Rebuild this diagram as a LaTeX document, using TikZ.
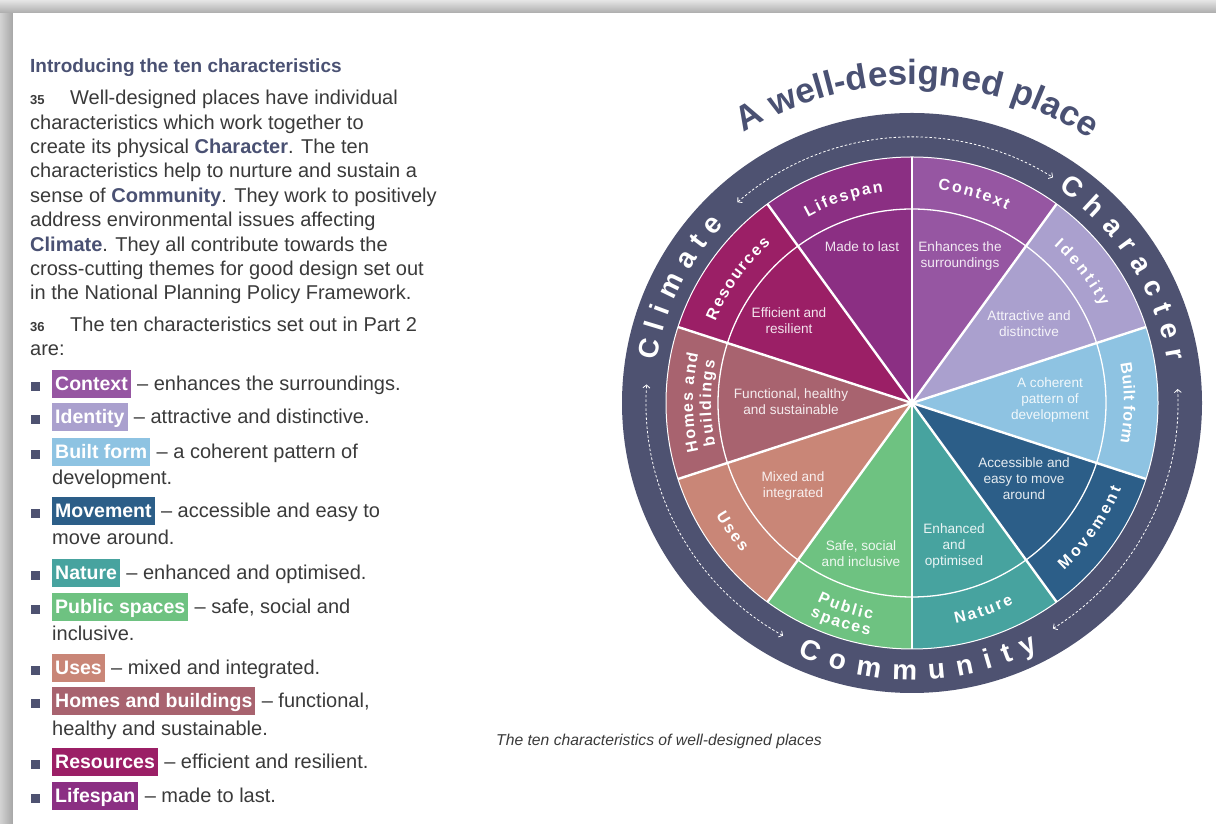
\documentclass[tikz,border=0pt]{standalone}
\usepackage{fontspec}
\setmainfont{Liberation Sans}
\usetikzlibrary{decorations.text,arrows.meta}

\definecolor{ringcol}{HTML}{4E5271}
\definecolor{slate}{HTML}{4A5173}
\definecolor{bodytxt}{HTML}{3A3A3A}
\definecolor{lifespan}{HTML}{8B2F83}
\definecolor{context}{HTML}{9656A2}
\definecolor{identity}{HTML}{AAA0CE}
\definecolor{builtform}{HTML}{8EC3E2}
\definecolor{movement}{HTML}{2C5E88}
\definecolor{nature}{HTML}{47A39F}
\definecolor{publicsp}{HTML}{6EC281}
\definecolor{uses}{HTML}{C98677}
\definecolor{homes}{HTML}{A8636F}
\definecolor{resources}{HTML}{9B1F66}

\newcommand\keyword[1]{{\bfseries\color{slate}#1}}
\newcommand\parno[1]{\makebox[40pt][l]{\fontsize{13}{13}\selectfont\bfseries #1}}
\newcommand\ringtxt{\bfseries\fontsize{28}{28}\selectfont}
\newcommand\slicetxt{\bfseries\fontsize{16}{16}\selectfont}

% spaced-out letters round the wheel centre (ctr)
% #1 font, #2 size, #3 letter/advance (1/1000 em) list, #4 centre angle,
% #5 baseline radius, #6 tracking, #7 1 = clockwise, -1 = anticlockwise
\newcommand\arcword[7]{%
  \gdef\arcsum{0}%
  \foreach \ch/\w in {#3}{%
    \pgfmathparse{\arcsum+\w/1000*#2+#6}\xdef\arcsum{\pgfmathresult}}%
  \pgfmathparse{-(\arcsum-#6)/2}\xdef\arcpos{\pgfmathresult}%
  \foreach \ch/\w in {#3}{%
    \pgfmathsetmacro\ang{#4-(#7)*(\arcpos+\w/2000*#2)/#5*57.2958}%
    \node[anchor=base, inner sep=0pt, text=white, font=#1, rotate=\ang-(#7)*90]
      at ([shift={(\ang:#5)}]ctr) {\ch};
    \pgfmathparse{\arcpos+\w/1000*#2+#6}\xdef\arcpos{\pgfmathresult}}%
}

\tikzset{
  body/.style={anchor=base west, inner sep=0pt, align=left, text=bodytxt,
    font=\fontsize{20}{24.4}\selectfont},
  tag/.style={fill=#1, text=white, anchor=base west, inner xsep=3pt, inner ysep=0pt,
    text height=21pt, text depth=7pt, font=\fontsize{19.5}{24}\selectfont\bfseries},
  bullet/.style={fill=ringcol},
  desc/.style={align=center, inner sep=0pt, text=white!88!#1,
    font=\fontsize{13.6}{16}\selectfont},
  loop arrow/.style={white, line width=0.8pt, dash pattern=on 2.5pt off 2pt,
    {Straight Barb[length=3pt,width=7pt]}-{Straight Barb[length=3pt,width=7pt]}},
}

\begin{document}
\begin{tikzpicture}[x=1pt,y=1pt]
\useasboundingbox (0,0) rectangle (1216,824);
% page edge and its shadow
\fill[left color=gray!35, right color=gray!70] (0,0) rectangle (13,824);
\fill[top color=gray!20, bottom color=gray!65] (0,811) rectangle (1216,824);
\fill[white] (13,0) rectangle (1216,811);

% left column (base of a multi-line node = its last line)
\node[body, font=\fontsize{19}{24}\selectfont\bfseries, text=slate] (head) at (30,751)
  {Introducing the ten characteristics};
\node[body] (p35) at (30,524) {\parno{35}Well-designed places have individual\\
  characteristics which work together to\\
  create its physical \keyword{Character}. The ten\\
  characteristics help to nurture and sustain a\\
  sense of \keyword{Community}. They work to positively\\
  address environmental issues affecting\\
  \keyword{Climate}. They all contribute towards the\\
  cross-cutting themes for good design set out\\
  in the National Planning Policy Framework.};
\node[body] (p36) at (30,468) {\parno{36}The ten characteristics set out in Part 2\\are:};

% the list
\fill[bullet] (31,433) rectangle ++(9,9);
\node[tag=context] (tContext) at (52,433) {Context};
\node[body] at ([xshift=6pt]tContext.base east) {– enhances the surroundings.};
\fill[bullet] (31,400) rectangle ++(9,9);
\node[tag=identity] (tIdentity) at (52,400) {Identity};
\node[body] at ([xshift=6pt]tIdentity.base east) {– attractive and distinctive.};
\fill[bullet] (31,365) rectangle ++(9,9);
\node[tag=builtform] (tBuilt) at (52,365) {Built form};
\node[body] at ([xshift=6pt]tBuilt.base east) {– a coherent pattern of};
\node[body] at (52,339) {development.};
\fill[bullet] (31,306) rectangle ++(9,9);
\node[tag=movement] (tMove) at (52,306) {Movement};
\node[body] at ([xshift=6pt]tMove.base east) {– accessible and easy to};
\node[body] at (52,279) {move around.};
\fill[bullet] (31,244) rectangle ++(9,9);
\node[tag=nature] (tNature) at (52,244) {Nature};
\node[body] at ([xshift=6pt]tNature.base east) {– enhanced and optimised.};
\fill[bullet] (31,210) rectangle ++(9,9);
\node[tag=publicsp] (tPublic) at (52,210) {Public spaces};
\node[body] at ([xshift=6pt]tPublic.base east) {– safe, social and};
\node[body] at (52,183) {inclusive.};
\fill[bullet] (31,149) rectangle ++(9,9);
\node[tag=uses] (tUses) at (52,149) {Uses};
\node[body] at ([xshift=6pt]tUses.base east) {– mixed and integrated.};
\fill[bullet] (31,116) rectangle ++(9,9);
\node[tag=homes] (tHomes) at (52,116) {Homes and buildings};
\node[body] at ([xshift=6pt]tHomes.base east) {– functional,};
\node[body] at (52,88) {healthy and sustainable.};
\fill[bullet] (31,55) rectangle ++(9,9);
\node[tag=resources] (tRes) at (52,55) {Resources};
\node[body] at ([xshift=6pt]tRes.base east) {– efficient and resilient.};
\fill[bullet] (31,21) rectangle ++(9,9);
\node[tag=lifespan] (tLife) at (52,21) {Lifespan};
\node[body] at ([xshift=6pt]tLife.base east) {– made to last.};

% the wheel
\coordinate (ctr) at (912,421);
\fill[ringcol] (ctr) circle[radius=290];
\foreach \col [count=\i from 0, evaluate=\i as \a using 90-36*\i] in
    {context,identity,builtform,movement,nature,publicsp,uses,homes,resources,lifespan}
  \fill[\col] (ctr) -- ([shift={(\a:246)}]ctr) arc[start angle=\a, delta angle=-36, radius=246] -- cycle;
\draw[white, line width=1.3pt] (ctr) circle[radius=194];
\draw[white, line width=1pt] (ctr) circle[radius=246];
\foreach \a in {90,54,...,-234}
  \draw[white, line width=2.4pt] (ctr) -- ++(\a:246);

% dashed arrows round the ring
\draw[loop arrow] ([shift={(131:266)}]ctr) arc[start angle=131, end angle=58, radius=266];
\draw[loop arrow] ([shift={(3:266)}]ctr) arc[start angle=3, end angle=-58, radius=266];
\draw[loop arrow] ([shift={(241:266)}]ctr) arc[start angle=241, end angle=176, radius=266];

% ring words
\arcword{\ringtxt}{28}{C/722,h/611,a/556,r/389,a/556,c/556,t/333,e/556,r/389}{32.5}{259}{9.9}{1}
\arcword{\ringtxt}{28}{C/722,l/278,i/278,m/889,a/556,t/333,e/556}{153.5}{259}{8.8}{1}
\arcword{\ringtxt}{28}{C/722,o/611,m/889,m/889,u/611,n/611,i/278,t/333,y/556}{-88.6}{277}{12}{-1}

% title
\path[decorate, decoration={text along path, text align=center, text color=slate,
    text={|\fontsize{35}{35}\selectfont\bfseries|A well-designed place}}]
  ([shift={(145:318)}]ctr) arc[start angle=145, end angle=33, radius=318];

% slice names, outer band
\arcword{\slicetxt}{16}{L/611,i/278,f/333,e/556,s/556,p/611,a/556,n/611}{108.5}{213}{2}{1}
\arcword{\slicetxt}{16}{C/722,o/611,n/611,t/333,e/556,x/556,t/333}{73.5}{215}{2.1}{1}
\arcword{\slicetxt}{16}{I/278,d/611,e/556,n/611,t/333,i/278,t/333,y/556}{37.5}{212}{3}{1}
\arcword{\slicetxt}{16}{B/722,u/611,i/278,l/278,t/333,~/278,f/333,o/611,r/389,m/889}{0}{212}{0.5}{1}
\arcword{\slicetxt}{16}{M/833,o/611,v/556,e/556,m/889,e/556,n/611,t/333}{-35}{226}{3}{-1}
\arcword{\slicetxt}{16}{N/722,a/556,t/333,u/611,r/389,e/556}{-71}{225}{2.2}{-1}
\arcword{\slicetxt}{16}{P/667,u/611,b/611,l/278,i/278,c/556}{-108}{220}{2}{-1}
\arcword{\slicetxt}{16}{s/556,p/611,a/556,c/556,e/556,s/556}{-108}{236}{1.7}{-1}
\arcword{\slicetxt}{16}{U/722,s/556,e/556,s/556}{215.5}{226}{2.2}{-1}
\arcword{\slicetxt}{16}{H/722,o/611,m/889,e/556,s/556,~/278,a/556,n/611,d/611}{180}{219}{1.5}{1}
\arcword{\slicetxt}{16}{b/611,u/611,i/278,l/278,d/611,i/278,n/611,g/611,s/556}{180}{201}{1.7}{1}
\arcword{\slicetxt}{16}{R/722,e/556,s/556,o/611,u/611,r/389,c/556,e/556,s/556}{144.5}{213}{1.75}{1}

% what each one means, inner band
\node[desc=lifespan] (dLife) at (862,577) {Made to last};
\node[desc=context] (dContext) at (960,568) {Enhances the\\surroundings};
\node[desc=identity] (dIdentity) at (1029,500) {Attractive and\\distinctive};
\node[desc=builtform] (dBuilt) at (1050,424) {A coherent\\pattern of\\development};
\node[desc=movement] (dMove) at (1024,345) {Accessible and\\easy to move\\around};
\node[desc=nature] (dNature) at (954,278) {Enhanced\\and\\optimised};
\node[desc=publicsp] (dPublic) at (861,270) {Safe, social\\and inclusive};
\node[desc=uses] (dUses) at (793,338) {Mixed and\\integrated};
\node[desc=homes] (dHomes) at (791,422) {Functional, healthy\\and sustainable};
\node[desc=resources] (dRes) at (789,503) {Efficient and\\resilient};

\node[body, font=\fontsize{15.7}{18}\selectfont\itshape] (caption) at (496,78)
  {The ten characteristics of well-designed places};
\end{tikzpicture}
\end{document}
